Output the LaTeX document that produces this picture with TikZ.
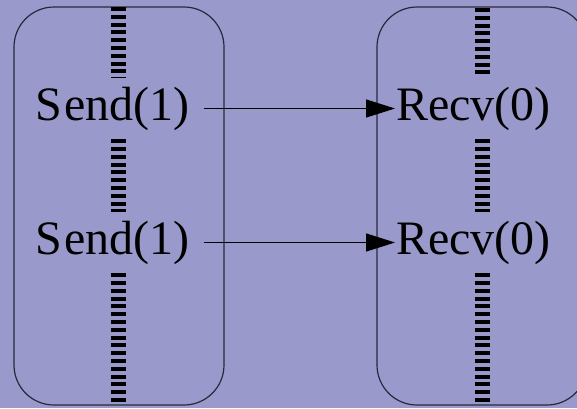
\documentclass[tikz,border=0pt]{standalone}
\usepackage{fontspec}
\setmainfont{Liberation Serif}
\usetikzlibrary{arrows.meta}
\definecolor{bgc}{RGB}{153,153,204}
\definecolor{boxc}{RGB}{40,40,60}
\begin{document}
\begin{tikzpicture}[x=1pt,y=-1pt,
  lane/.style={draw=boxc, line width=1.2pt, rounded corners=40pt},
  lifeline/.style={line width=15pt, dash pattern=on 4pt off 3.8pt},
  lbl/.style={inner sep=0pt, minimum height=61pt, font=\fontsize{48}{52}\selectfont},
  msg/.style={line width=1.2pt, -{Triangle[length=29pt,width=18pt]}}]
\useasboundingbox[fill=bgc] (0,0) rectangle (577,408);
\draw[lane] (14,7) rectangle (224,405);
\draw[lane] (377,7) rectangle (587,405);
\coordinate (ltop) at (118.5,7);
\coordinate (lbot) at (118.5,405);
\coordinate (rtop) at (482.5,8);
\coordinate (rbot) at (482.5,405);
\node[lbl] (s1) at (112.5,108.5) {S\kern2pt end(1)};
\node[lbl] (s2) at (112.5,242.5) {S\kern2pt end(1)};
\node[lbl] (r1) at (473.5,108.5) {Recv(0)};
\node[lbl] (r2) at (473.5,242.5) {Recv(0)};
\draw[lifeline] (ltop) -- (ltop |- s1.north);
\draw[lifeline] (ltop |- s1.south) -- (ltop |- s2.north);
\draw[lifeline] (ltop |- s2.south) -- (lbot);
\draw[lifeline] (rtop) -- (rtop |- r1.north);
\draw[lifeline] (rtop |- r1.south) -- (rtop |- r2.north);
\draw[lifeline] (rtop |- r2.south) -- (rbot);
\draw[msg, shorten <=14pt, shorten >=1pt] (s1.east) -- (r1.west);
\draw[msg, shorten <=14pt, shorten >=1pt] (s2.east) -- (r2.west);
\end{tikzpicture}
\end{document}
